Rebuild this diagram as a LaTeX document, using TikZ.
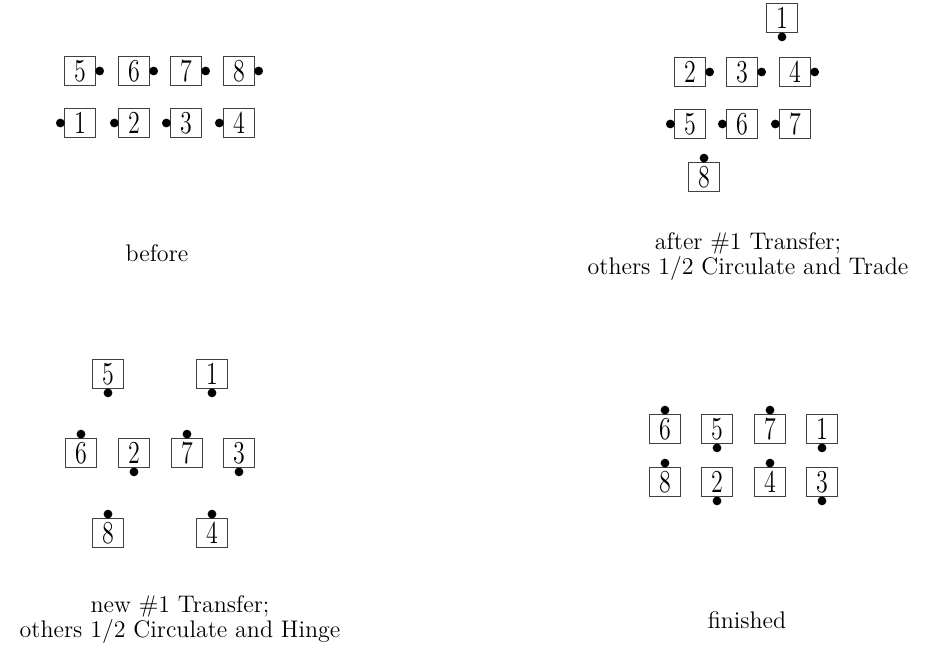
\documentclass[tikz,border=0pt]{standalone}
\usetikzlibrary{positioning}
\newcommand{\tall}[1]{\scalebox{1}[1.33]{#1}}

\begin{document}
\begin{tikzpicture}[
    x=0.5pt, y=-0.5pt,
    seat/.style={draw=black!75, line width=0.6pt, minimum width=15.25pt, minimum height=14.5pt, inner sep=0pt, font=\fontsize{12}{12}\selectfont},
    caption/.style={align=center, font=\fontsize{12}{12.5}\selectfont},
    dot/.style={fill=black},
]
    \useasboundingbox (0,0) rectangle (925,651);

    % before
    \foreach \n/\x/\y/\a in {5/80/71/0, 6/134/71/0, 7/186/71/0, 8/239/71/0,
                             1/80/123/180, 2/134/123/180, 3/186/123/180, 4/239/123/180} {
        \node[seat] (a\n) at (\x,\y) {\tall{\n}};
        \fill[dot] (a\n.\a) ++(\a:1.9pt) circle[radius=2.2pt];
    }
    \node[caption] (lbefore) at (157,253) {before};

    % after #1 Transfer
    \foreach \n/\x/\y/\a in {1/782/18/270,
                             2/690/72/0, 3/742/72/0, 4/795/72/0,
                             5/690/124/180, 6/742/124/180, 7/795/124/180,
                             8/704/177/90} {
        \node[seat] (b\n) at (\x,\y) {\tall{\n}};
        \fill[dot] (b\n.\a) ++(\a:1.9pt) circle[radius=2.2pt];
    }
    \node[caption] (lafter) at (748,257) {after \#1 Transfer;\\others 1/2 Circulate and Trade};

    % new #1 Transfer
    \foreach \n/\x/\y/\a in {5/108/374/270, 1/212/374/270,
                             6/81/453/90, 2/134/453/270, 7/187/453/90, 3/239/453/270,
                             8/108/533/90, 4/212/533/90} {
        \node[seat] (c\n) at (\x,\y) {\tall{\n}};
        \fill[dot] (c\n.\a) ++(\a:1.9pt) circle[radius=2.2pt];
    }
    \node[caption] (lnew) at (180,620) {new \#1 Transfer;\\others 1/2 Circulate and Hinge};

    % finished
    \foreach \n/\x/\y/\a in {6/665/429/90, 5/717/429/270, 7/770/429/90, 1/822/429/270,
                             8/665/482/90, 2/717/482/270, 4/770/482/90, 3/822/482/270} {
        \node[seat] (d\n) at (\x,\y) {\tall{\n}};
        \fill[dot] (d\n.\a) ++(\a:1.9pt) circle[radius=2.2pt];
    }
    \node[caption] (lfinished) at (747,620) {finished};

\end{tikzpicture}
\end{document}
